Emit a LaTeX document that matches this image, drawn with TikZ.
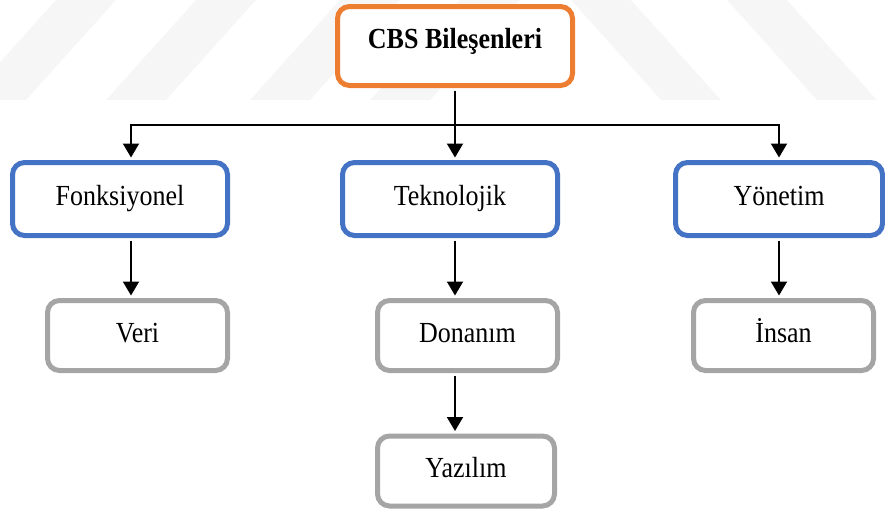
\documentclass[tikz,border=0pt]{standalone}
\usepackage{fontspec}
\usepackage{graphicx}
\setmainfont{Liberation Serif}
\usetikzlibrary{arrows.meta,calc}
\definecolor{cborange}{HTML}{ED7D31}
\definecolor{cbblue}{HTML}{4472C4}
\definecolor{cbgray}{HTML}{A5A5A5}
\definecolor{wmark}{HTML}{F6F6F6}
\newcommand{\tallt}[1]{\scalebox{1}[1.12]{#1}}
\begin{document}
\begin{tikzpicture}[x=0.5pt,y=-0.5pt,
  basebox/.style={draw, rounded corners=6pt, line width=2.5pt, fill=white, inner sep=0pt,
    text height=9.5pt, text depth=3pt, font=\fontsize{13}{15}\selectfont},
  topbox/.style={basebox, draw=cborange, minimum width=117.5pt, minimum height=39.5pt,
    text height=8pt, text depth=6pt, font=\fontsize{13}{15}\selectfont\bfseries},
  midbox/.style={basebox, draw=cbblue, minimum height=36.5pt},
  lowbox/.style={basebox, draw=cbgray, minimum width=90pt, minimum height=35pt},
  conn/.style={draw=black, line width=1pt, -{Triangle[width=8pt,length=7pt]},
    shorten <=1.25pt, shorten >=1.25pt},
  wm/.style={fill=wmark, draw=none}]
\useasboundingbox (0,0) rectangle (885,509);
% faint watermark stripes
\foreach \b in {-34,106,250,370} {
  \path[wm] (\b,100) -- (\b+60,100) -- (\b+150,0) -- (\b+90,0) -- cycle;
}
\foreach \t in {571,727} {
  \path[wm] (\t,0) -- (\t+60,0) -- (\t+150,100) -- (\t+90,100) -- cycle;
}
% nodes
\node[topbox] (cbs) at (455,46) {\tallt{CBS Bileşenleri}};
\node[midbox, minimum width=107.5pt] (fon) at (120,199) {\tallt{Fonksiyonel}};
\node[midbox, minimum width=107.5pt] (tek) at (450,199) {\tallt{Teknolojik}};
\node[midbox, minimum width=103.5pt] (yon) at (779,199) {\tallt{Yönetim}};
\node[lowbox] (veri) at (137.5,335.5) {\tallt{Veri}};
\node[lowbox] (don) at (467.5,335.5) {\tallt{Donanım}};
\node[lowbox] (ins) at (783.5,335.5) {\tallt{İnsan}};
\node[lowbox, minimum width=88.5pt] (yaz) at (466,471) {\tallt{Yazılım}};
% helper coordinates
\coordinate (bus) at (455,125);
\coordinate (xa) at (131,0);
\coordinate (xb) at (455,0);
\coordinate (xc) at (779,0);
% connectors
\draw[conn] (cbs.south) -- (tek.north -| xb);
\draw[conn, shorten <=0pt] (bus) -| (fon.north -| xa);
\draw[conn, shorten <=0pt] (bus) -| (yon.north -| xc);
\draw[conn] (fon.south -| xa) -- (veri.north -| xa);
\draw[conn] (tek.south -| xb) -- (don.north -| xb);
\draw[conn] (don.south -| xb) -- (yaz.north -| xb);
\draw[conn] (yon.south -| xc) -- (ins.north -| xc);
\end{tikzpicture}
\end{document}
